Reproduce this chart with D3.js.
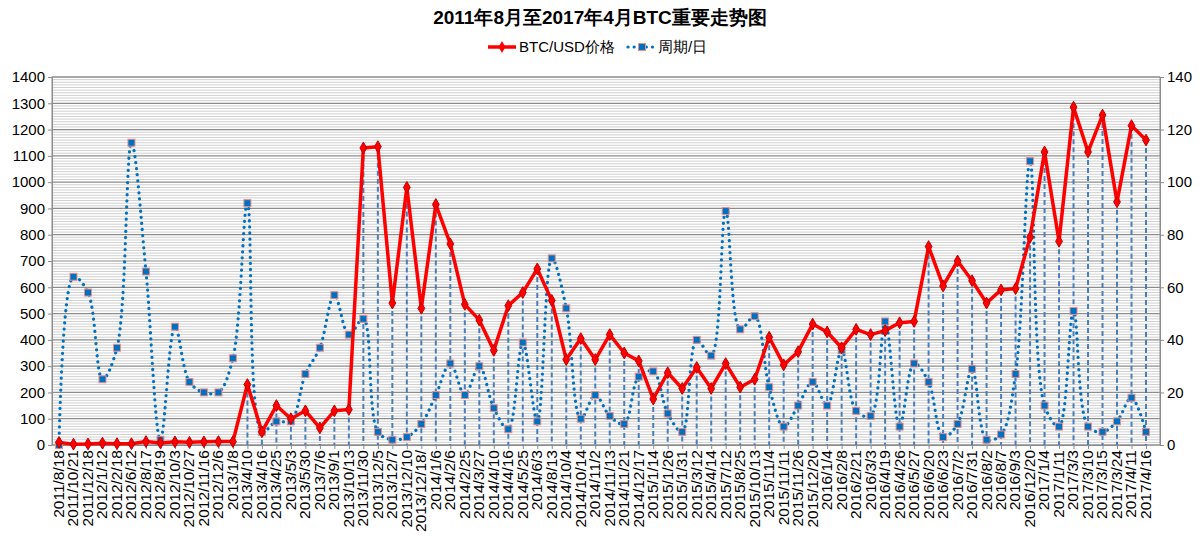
<!DOCTYPE html>
<html><head><meta charset="utf-8">
<script src="https://cdn.jsdelivr.net/npm/d3@7/dist/d3.min.js"></script>
<style>body{margin:0;background:#fff;font-family:"Liberation Sans",Arial,sans-serif}</style>
</head><body><svg id="c" width="1200" height="542"></svg>
<script>
const categories=["2011/8/18","2011/10/21","2011/12/18","2012/1/12","2012/2/18","2012/6/12","2012/8/17","2012/8/19","2012/10/3","2012/10/27","2012/11/16","2012/12/6","2013/1/8","2013/4/10","2013/4/16","2013/4/25","2013/5/3","2013/5/30","2013/7/6","2013/9/1","2013/10/13","2013/11/30","2013/12/5","2013/12/7","2013/12/10","2013/12/18/","2014/1/6","2014/2/6","2014/2/25","2014/3/27","2014/4/10","2014/4/16","2014/5/25","2014/6/3","2014/8/13","2014/10/4","2014/10/14","2014/11/2","2014/11/13","2014/11/21","2014/12/17","2015/1/14","2015/1/26","2015/1/31","2015/3/12","2015/4/14","2015/7/12","2015/8/25","2015/10/13","2015/11/4","2015/11/11","2015/11/26","2015/12/20","2016/1/4","2016/2/8","2016/2/21","2016/3/3","2016/4/19","2016/4/26","2016/5/27","2016/6/20","2016/6/23","2016/7/2","2016/7/31","2016/8/2","2016/8/7","2016/9/3","2016/12/20","2017/1/4","2017/1/11","2017/3/3","2017/3/10","2017/3/15","2017/3/24","2017/4/11","2017/4/16"];
const price=[10,3,4,7,5,5,13,8,12,10,12,13,13,230,50,150,100,130,65,130,135,1130,1135,540,980,520,915,765,535,475,360,530,580,670,550,325,405,325,420,350,320,175,275,215,295,215,310,220,250,410,305,355,460,430,370,440,420,435,465,470,755,605,700,625,540,590,595,790,1115,775,1285,1115,1255,925,1215,1160];
const days=[0,64,58,25,37,115,66,2,45,24,20,20,33,92,5,9,9,27,37,57,42,48,5,2,3,8,19,31,19,30,14,6,39,9,71,52,10,19,11,8,26,28,12,5,40,34,89,44,49,22,7,15,24,15,36,13,11,47,7,31,24,3,8,29,2,4,27,108,15,7,51,7,5,9,18,5];
const leftTicks=d3.range(0,1401,100), rightTicks=d3.range(0,141,20);

const svg=d3.select("#c");
const L=52,R=1160,T=77,B=445;
const x=d3.scalePoint().domain(categories).range([59,1146]);
const y=d3.scaleLinear().domain([0,1400]).range([B,T]);
const y2=d3.scaleLinear().domain([0,140]).range([B,T]);

svg.append("text").attr("x",600).attr("y",24).attr("text-anchor","middle").attr("font-size",19).attr("font-weight","bold").text("2011年8月至2017年4月BTC重要走势图");

svg.append("g").selectAll("line").data(d3.range(0,1401,10)).join("line")
 .attr("x1",L).attr("x2",R).attr("y1",d=>y(d)).attr("y2",d=>y(d))
 .attr("stroke",d=>d%100===0?"#8c8c8c":"#c4c4c4").attr("stroke-width",d=>d%100===0?1.2:0.8);
svg.append("rect").attr("x",L).attr("y",T).attr("width",R-L).attr("height",B-T).attr("fill","none").attr("stroke","#8c8c8c");

const gl=svg.append("g").attr("transform",`translate(${L},0)`).call(d3.axisLeft(y).tickValues(leftTicks).tickSize(4).tickFormat(d3.format("d")));
const gr=svg.append("g").attr("transform",`translate(${R},0)`).call(d3.axisRight(y2).tickValues(rightTicks).tickSize(4).tickFormat(d3.format("d")));
const gx=svg.append("g").attr("transform",`translate(0,${B})`).call(d3.axisBottom(x).tickSize(4));
[gl,gr,gx].forEach(g=>{g.select(".domain").attr("stroke","#8c8c8c");g.selectAll(".tick line").attr("stroke","#8c8c8c");g.selectAll("text").attr("fill","#000").attr("font-size",15).attr("font-family","Liberation Sans, Arial");});
gx.selectAll("text").attr("transform","rotate(-90)").attr("text-anchor","end").attr("x",-5).attr("y",-1).attr("dy","0.35em").attr("font-size",15.5);

svg.append("g").selectAll("line").data(categories).join("line")
 .attr("x1",d=>x(d)).attr("x2",d=>x(d)).attr("y1",(d,i)=>y(price[i])).attr("y2",B)
 .attr("stroke","#4a7ebb").attr("stroke-width",2).attr("stroke-dasharray","5,3");

const idx=d3.range(categories.length);
svg.append("path").datum(idx).attr("fill","none").attr("stroke","#0070c0").attr("stroke-width",3.2)
 .attr("stroke-dasharray","0.1,6").attr("stroke-linecap","round")
 .attr("d",d3.line().x(i=>x(categories[i])).y(i=>y2(days[i])).curve(d3.curveCatmullRom.alpha(0.5)));
svg.append("g").selectAll("rect").data(idx).join("rect")
 .attr("x",i=>x(categories[i])-3.5).attr("y",i=>y2(days[i])-3.5).attr("width",7).attr("height",7)
 .attr("fill","#0070c0").attr("stroke","#e8908c").attr("stroke-width",1);

svg.append("path").datum(idx).attr("fill","none").attr("stroke","#ff0000").attr("stroke-width",3.5).attr("stroke-linejoin","round")
 .attr("d",d3.line().x(i=>x(categories[i])).y(i=>y(price[i])));
svg.append("g").selectAll("path").data(idx).join("path")
 .attr("transform",i=>`translate(${x(categories[i])},${y(price[i])})`)
 .attr("d",d3.symbol(d3.symbolDiamond,40)).attr("fill","#ff0000").attr("stroke","#c00000");

const lg=svg.append("g").attr("transform","translate(0,47)");
lg.append("line").attr("x1",488).attr("x2",516).attr("stroke","#ff0000").attr("stroke-width",3.5);
lg.append("path").attr("transform","translate(502,0)").attr("d",d3.symbol(d3.symbolDiamond,40)).attr("fill","#ff0000");
lg.append("text").attr("x",519).attr("y",5).attr("font-size",15).text("BTC/USD价格");
lg.append("line").attr("x1",628).attr("x2",656).attr("stroke","#0070c0").attr("stroke-width",3.2).attr("stroke-dasharray","0.1,6").attr("stroke-linecap","round");
lg.append("rect").attr("x",638.5).attr("y",-3.5).attr("width",7).attr("height",7).attr("fill","#0070c0").attr("stroke","#e8908c");
lg.append("text").attr("x",658).attr("y",5).attr("font-size",15).text("周期/日");
</script></body></html>
